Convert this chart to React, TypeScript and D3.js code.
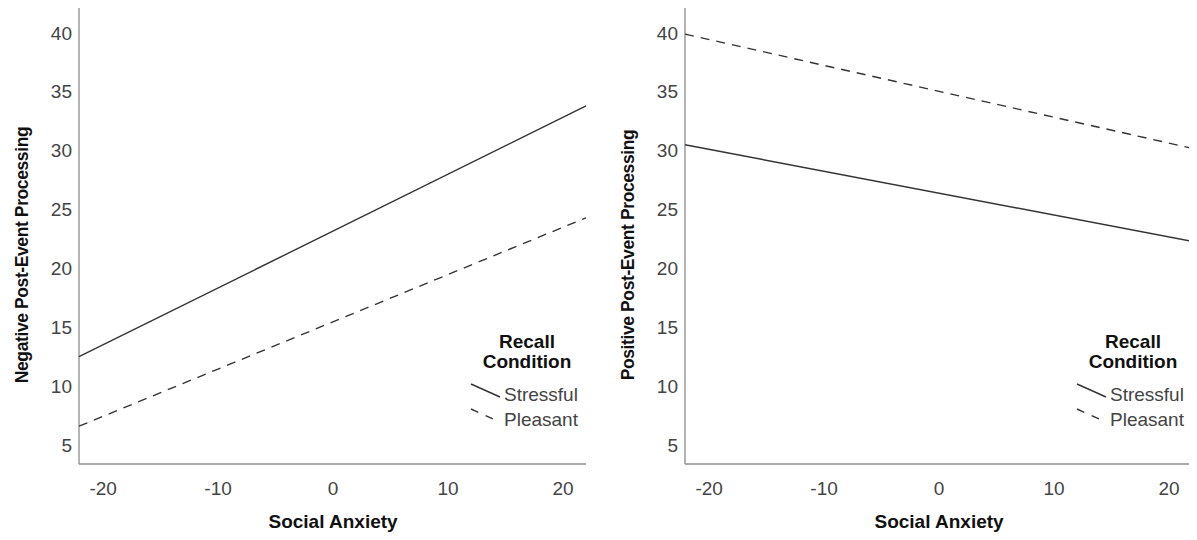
import React, { useEffect, useRef } from "react";
import * as d3 from "d3";

// x values at the two ends of each fitted line
const xEnds = [-22.1, 22];
const xTicks = [-20, -10, 0, 10, 20];
const yTicks = [5, 10, 15, 20, 25, 30, 35, 40];

const conditions = ["Stressful", "Pleasant"];

// negative post-event processing
const negStressful = [12.5, 33.8];
const negPleasant = [6.6, 24.3];
// positive post-event processing
const posStressful = [30.5, 22.3];
const posPleasant = [39.9, 30.2];

const panels = [
  { yTitle: "Negative Post-Event Processing", left: 79, series: [negStressful, negPleasant] },
  { yTitle: "Positive Post-Event Processing", left: 685, series: [posStressful, posPleasant] },
];

const App = () => {
  const ref = useRef(null);

  useEffect(() => {
    const svg = d3.select(ref.current);
    svg.selectAll("*").remove();

    const plotW = 507;
    const top = 7;
    const bottom = 464;
    const font = "Arial, 'Liberation Sans', sans-serif";

    panels.forEach((p) => {
      const g = svg.append("g").attr("transform", "translate(" + p.left + ",0)");

      const x = d3.scaleLinear().domain([xEnds[0], xEnds[1]]).range([0, plotW]);
      const y = d3.scaleLinear().domain([3.39, 42.2]).range([bottom, top]);

      // axes (no tick marks)
      g.append("line")
        .attr("x1", 0).attr("x2", 0).attr("y1", top).attr("y2", bottom)
        .attr("stroke", "#8c8c8c").attr("stroke-width", 1.3);
      g.append("line")
        .attr("x1", 0).attr("x2", plotW).attr("y1", bottom).attr("y2", bottom)
        .attr("stroke", "#8c8c8c").attr("stroke-width", 1.3);

      g.selectAll(".yt")
        .data(yTicks)
        .enter()
        .append("text")
        .attr("x", -7)
        .attr("y", (d) => y(d))
        .attr("dy", "0.35em")
        .attr("text-anchor", "end")
        .attr("font-family", font)
        .attr("font-size", 19)
        .attr("fill", "#444")
        .text((d) => d);

      g.selectAll(".xt")
        .data(xTicks)
        .enter()
        .append("text")
        .attr("x", (d) => x(d))
        .attr("y", 495)
        .attr("text-anchor", "middle")
        .attr("font-family", font)
        .attr("font-size", 19)
        .attr("fill", "#444")
        .text((d) => d);

      g.append("text")
        .attr("x", x(0))
        .attr("y", 528)
        .attr("text-anchor", "middle")
        .attr("font-family", font)
        .attr("font-size", 19)
        .attr("font-weight", "bold")
        .attr("fill", "#111")
        .text("Social Anxiety");

      g.append("text")
        .attr("transform", "translate(-51,255) rotate(-90)")
        .attr("text-anchor", "middle")
        .attr("font-family", font)
        .attr("font-size", 17.5)
        .attr("font-weight", "bold")
        .attr("letter-spacing", -0.4)
        .attr("fill", "#111")
        .text(p.yTitle);

      const line = d3.line<number>()
        .x((d, i) => x(xEnds[i]))
        .y((d) => y(d));

      p.series.forEach((s, i) => {
        g.append("path")
          .attr("d", line(s))
          .attr("fill", "none")
          .attr("stroke", "#333")
          .attr("stroke-width", 1.4)
          .attr("stroke-dasharray", i === 1 ? "9,7" : null);
      });

      // legend
      const lg = g.append("g").attr("transform", "translate(" + (plotW - 115) + ",0)");
      ["Recall", "Condition"].forEach((t, i) => {
        lg.append("text")
          .attr("x", 56)
          .attr("y", 348 + i * 20)
          .attr("text-anchor", "middle")
          .attr("font-family", font)
          .attr("font-size", 19)
          .attr("font-weight", "bold")
          .attr("fill", "#111")
          .text(t);
      });
      conditions.forEach((c, i) => {
        const yy = 384 + i * 25;
        lg.append("line")
          .attr("x1", 0).attr("y1", yy).attr("x2", 29).attr("y2", yy + 13)
          .attr("stroke", "#333")
          .attr("stroke-width", 1.4)
          .attr("stroke-dasharray", i === 1 ? "8,8" : null);
        lg.append("text")
          .attr("x", 33)
          .attr("y", yy + 17)
          .attr("font-family", font)
          .attr("font-size", 19)
          .attr("fill", "#444")
          .text(c);
      });
    });
  }, []);

  return <svg ref={ref} width={1197} height={540} style={{ display: "block", margin: -8 }} />;
};

export default App;
